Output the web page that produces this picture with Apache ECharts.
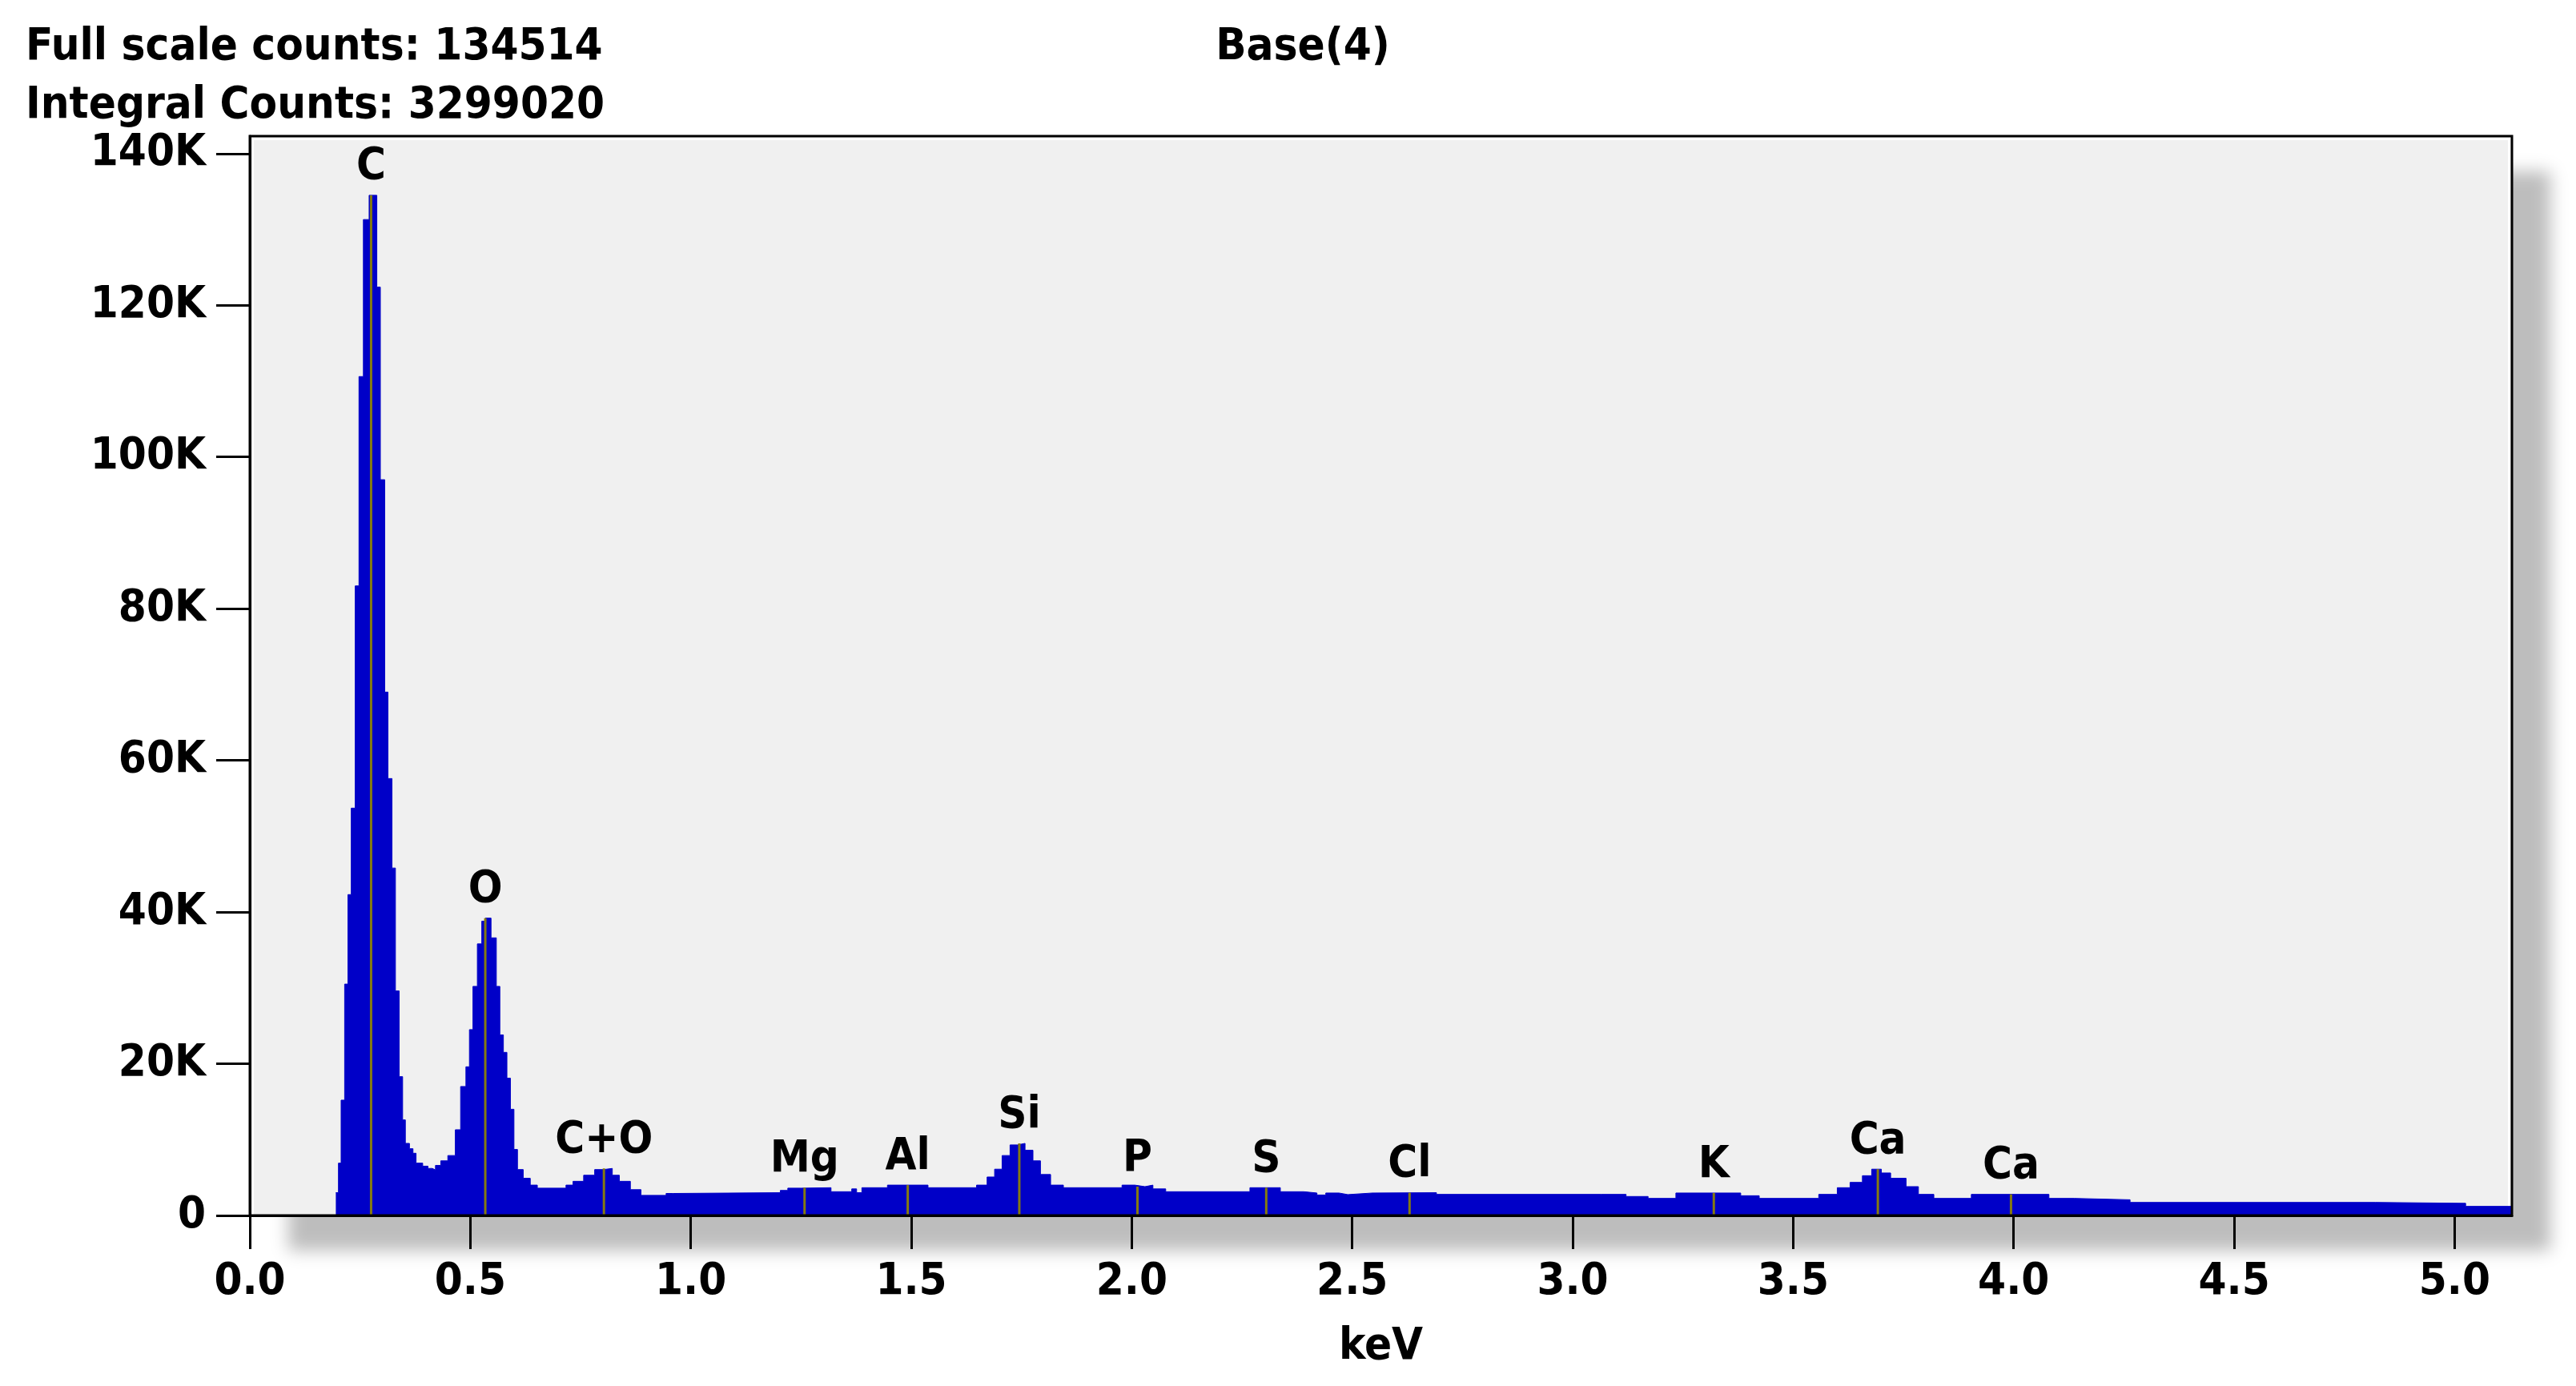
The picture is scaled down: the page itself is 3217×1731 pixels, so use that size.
<!DOCTYPE html>
<html><head><meta charset="utf-8">
<script src="https://cdn.jsdelivr.net/npm/echarts@6/dist/echarts.min.js"></script>
<style>html,body{margin:0;padding:0;background:#fff}#c{width:3217px;height:1731px}</style>
</head><body><div id="c"></div>
<script>
// Spectrum: left edge of each step (keV) and counts (thousands) held until next edge
const energy = [0.195,0.201,0.207,0.215,0.2225,0.230,0.239,0.2475,0.2575,0.2705,0.288,0.296,0.306,0.3133,0.3224,0.3302,0.3387,0.3465,0.3527,0.362,0.370,0.377,0.392,0.404,0.414,0.421,0.433,0.449,0.466,0.478,0.490,0.498,0.506,0.516,0.526,0.534,0.547,0.559,0.567,0.575,0.583,0.591,0.599,0.607,0.620,0.636,0.652,0.717,0.733,0.757,0.782,0.802,0.822,0.838,0.863,0.887,0.944,0.960,1.203,1.220,1.250,1.318,1.365,1.376,1.388,1.446,1.538,1.648,1.672,1.689,1.706,1.724,1.741,1.758,1.776,1.793,1.816,1.845,1.978,2.007,2.030,2.048,2.077,2.268,2.337,2.390,2.420,2.440,2.470,2.490,2.546,2.691,3.065,3.121,3.171,3.234,3.381,3.423,3.558,3.600,3.629,3.657,3.678,3.700,3.721,3.756,3.784,3.819,3.904,4.080,4.137,4.264,4.821,5.025,5.130];
const counts = [3.0,6.9,15.2,30.5,42.3,53.7,83,110.6,131.3,134.5,122.4,97,69,57.6,45.8,29.6,18.3,12.6,9.5,8.8,8.2,6.9,6.5,6.2,6.0,6.6,7.2,7.9,11.3,17.0,19.6,24.5,30.2,35.8,38.8,39.2,36.6,30.2,23.8,21.5,18.1,14.0,8.7,6.05,4.9,4.0,3.6,4.0,4.5,5.3,6.05,6.2,5.3,4.5,3.4,2.65,2.9,3.0,3.3,3.6,3.66,3.13,3.5,3.0,3.66,4.0,3.66,4.0,5.07,6.1,7.9,9.3,9.5,8.6,7.2,5.4,4.0,3.66,4.0,3.8,4.0,3.5,3.13,3.66,3.13,2.96,2.7,2.96,2.75,2.96,3.0,2.78,2.78,2.5,2.25,2.96,2.6,2.25,2.78,3.66,4.36,5.24,6.1,5.6,4.9,3.8,2.78,2.25,2.78,2.25,2.07,1.72,1.6,1.2,1.2];

const elementNames = ['C','O','C+O','Mg','Al','Si','P','S','Cl','K','Ca','Ca'];
const elementEnergy = [0.275,0.534,0.803,1.258,1.492,1.745,2.013,2.305,2.630,3.320,3.692,3.994];

const xTicks = [0,0.5,1.0,1.5,2.0,2.5,3.0,3.5,4.0,4.5,5.0];
const yTicks = [0,20,40,60,80,100,120,140];
const xMax = 5.13, yMax = 142.3;

const headerLines = ['Full scale counts: 134514','Integral Counts: 3299020'];
const chartTitle = 'Base(4)';
const xName = 'keV';

const FF = "'DejaVu Sans Condensed', 'DejaVu Sans', sans-serif";
const FS = 56;
const FONT = "bold " + FS + "px " + FF;

function heightAt(e){
  let v = 0;
  for (let i=0;i<energy.length;i++){ if (energy[i] <= e) v = counts[i]; }
  return v;
}
const markerData = elementEnergy.map((e)=>[e, heightAt(e)]);

const G = {left:312, top:170, right:80, bottom:213};
const W = 3217, H = 1731;
const gw = W - G.left - G.right, gh = H - G.top - G.bottom;

const chart = echarts.init(document.getElementById('c'), null, {renderer:'canvas'});
chart.setOption({
  animation:false,
  backgroundColor:'#ffffff',
  grid:{left:G.left, top:G.top, right:G.right, bottom:G.bottom, show:true, backgroundColor:'transparent',
        borderColor:'#000', borderWidth:3, z:5},
  graphic:[
    {type:'rect', z:-10, shape:{x:G.left, y:G.top, width:gw, height:gh},
     style:{fill:'#f0f0f0', shadowColor:'rgba(0,0,0,0.26)', shadowBlur:20, shadowOffsetX:48, shadowOffsetY:44}},
    {type:'rect', z:-9, shape:{x:G.left+4, y:G.top+4, width:gw-8, height:gh-4},
     style:{fill:'none', stroke:'#ffffff', lineWidth:2}},
    {type:'text', x:32, y:31, style:{text:headerLines[0], font:FONT, fill:'#000', verticalAlign:'top'}},
    {type:'text', x:32, y:104, style:{text:headerLines[1], font:FONT, fill:'#000', verticalAlign:'top'}},
    {type:'text', x:1627, y:31, style:{text:chartTitle, font:FONT, fill:'#000', align:'center', verticalAlign:'top'}}
  ],
  xAxis:{type:'value', min:0, max:xMax,
    name:xName, nameLocation:'middle', nameGap:136,
    nameTextStyle:{fontSize:FS, fontWeight:'bold', fontFamily:FF, color:'#000'},
    axisLine:{show:true, lineStyle:{color:'#000', width:3}},
    axisTick:{show:true, length:42, lineStyle:{color:'#000', width:3}, customValues:xTicks},
    axisLabel:{show:true, margin:55, fontSize:FS, fontWeight:'bold', fontFamily:FF, color:'#000',
      customValues:xTicks, formatter:(v)=>v.toFixed(1)},
    splitLine:{show:false}},
  yAxis:{type:'value', min:0, max:yMax,
    axisLine:{show:true, lineStyle:{color:'#000', width:3}},
    axisTick:{show:true, length:42, lineStyle:{color:'#000', width:3}, customValues:yTicks},
    axisLabel:{show:true, margin:55, fontSize:FS, fontWeight:'bold', fontFamily:FF, color:'#000',
      customValues:yTicks, formatter:(v)=> v===0 ? '0' : v+'K'},
    splitLine:{show:false}},
  series:[
    {type:'line', step:'end', symbol:'none', data:energy.map((e,i)=>[e,counts[i]]),
     lineStyle:{color:'#0000c8', width:1}, areaStyle:{color:'#0000c8', opacity:1}, z:2},
    {type:'custom', data:markerData, z:3,
     renderItem:(params, api)=>{
       const e = api.value(0), h = api.value(1);
       const p0 = api.coord([e,0]), p1 = api.coord([e,h]);
       return {type:'group', children:[
         {type:'line', shape:{x1:p0[0], y1:p0[1], x2:p1[0], y2:p1[1]}, style:{stroke:'#857a10', lineWidth:3}},
         {type:'text', x:p1[0], y:p1[1]-7, style:{text:elementNames[params.dataIndex], font:FONT, fill:'#000', align:'center', verticalAlign:'bottom'}}
       ]};
     }}
  ]
});
</script></body></html>
